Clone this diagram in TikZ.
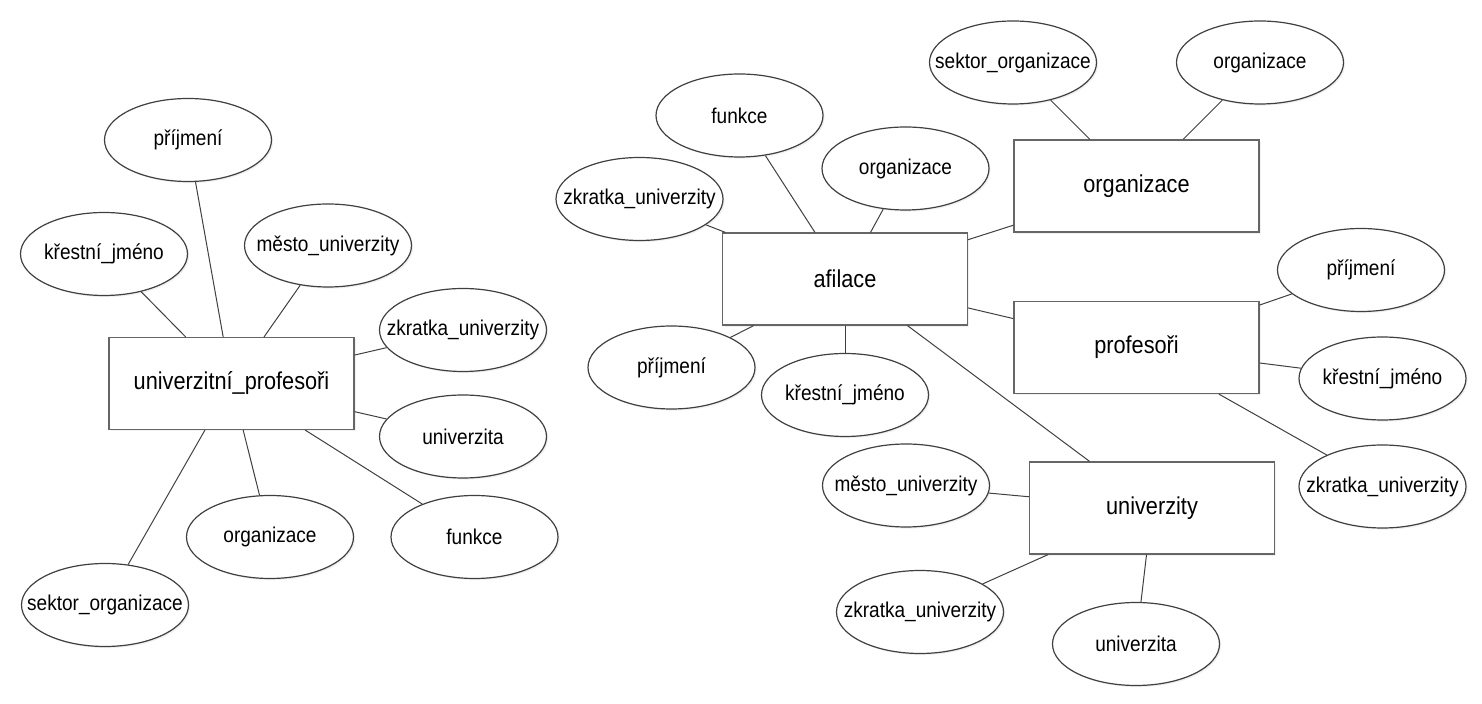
\documentclass[tikz,border=0pt]{standalone}
\usepackage{fontspec}
\setmainfont{Liberation Sans}[FakeStretch=0.89]
\usepackage{tikz}
\usetikzlibrary{shapes.geometric,shadows}

\tikzset{
  atribut/.style={ellipse, draw=black!75, line width=0.6pt, fill=white,
    minimum width=83.5pt, minimum height=41.5pt, inner xsep=-12pt, inner ysep=0pt,
    font=\fontsize{10.7}{12}\selectfont,
    drop shadow={shadow xshift=0.8pt, shadow yshift=-0.8pt, opacity=0.12}},
  entita/.style={rectangle, draw=black!60, line width=0.6pt, fill=white,
    minimum width=122.5pt, minimum height=46pt, inner sep=0pt,
    font=\fontsize{12.2}{14}\selectfont,
    drop shadow={shadow xshift=0.8pt, shadow yshift=-0.8pt, opacity=0.12}},
  spoj/.style={draw=black!75, line width=0.5pt}
}

\begin{document}
\begin{tikzpicture}[x=0.5pt,y=-0.5pt]
        \useasboundingbox (0,0) rectangle (1482,704);
        % levy diagram
        \node[entita] (up) at (231.5,383.5) {univerzitní\_profesoři};
        \node[atribut] (upPrijmeni) at (188,140) {příjmení};
        \node[atribut] (upJmeno) at (104,254) {křestní\_jméno};
        \node[atribut] (upMesto) at (328,245.5) {město\_univerzity};
        \node[atribut] (upZkratka) at (463,330) {zkratka\_univerzity};
        \node[atribut] (upUniverzita) at (463,436.5) {univerzita};
        \node[atribut] (upFunkce) at (474.5,537) {funkce};
        \node[atribut] (upOrganizace) at (270,537) {organizace};
        \node[atribut] (upSektor) at (105,605) {sektor\_organizace};
        \draw[spoj] (upPrijmeni) -- (up);
        \draw[spoj] (upJmeno) -- (up);
        \draw[spoj] (upMesto) -- (up);
        \draw[spoj] (upZkratka) -- (up);
        \draw[spoj] (upUniverzita) -- (up);
        \draw[spoj] (upFunkce) -- (up);
        \draw[spoj] (upOrganizace) -- (up);
        \draw[spoj] (upSektor) -- (up);
        % pravy diagram
        \node[entita] (af) at (845,279) {afilace};
        \node[entita] (org) at (1136.5,186) {organizace};
        \node[entita] (prof) at (1136.5,347.5) {profesoři};
        \node[entita] (uni) at (1152,508) {univerzity};
        \node[atribut] (afFunkce) at (739.5,115.5) {funkce};
        \node[atribut] (afOrganizace) at (905.5,168.5) {organizace};
        \node[atribut] (afZkratka) at (639.5,199) {zkratka\_univerzity};
        \node[atribut] (afPrijmeni) at (671.5,367.5) {příjmení};
        \node[atribut] (afJmeno) at (845,395) {křestní\_jméno};
        \node[atribut] (orgSektor) at (1013,62.5) {sektor\_organizace};
        \node[atribut] (orgNazev) at (1260,62.5) {organizace};
        \node[atribut] (profPrijmeni) at (1361,270) {příjmení};
        \node[atribut] (profJmeno) at (1382.5,378.5) {křestní\_jméno};
        \node[atribut] (profZkratka) at (1382.5,486.5) {zkratka\_univerzity};
        \node[atribut] (uniMesto) at (906,485.5) {město\_univerzity};
        \node[atribut] (uniZkratka) at (920,612) {zkratka\_univerzity};
        \node[atribut] (uniNazev) at (1136,644) {univerzita};
        \draw[spoj] (afFunkce) -- (af);
        \draw[spoj] (afOrganizace) -- (af);
        \draw[spoj] (afZkratka) -- (af);
        \draw[spoj] (afPrijmeni) -- (af);
        \draw[spoj] (afJmeno) -- (af);
        \draw[spoj] (af) -- (org);
        \draw[spoj] (af) -- (prof);
        \draw[spoj] (af) -- (uni);
        \draw[spoj] (orgSektor) -- (org);
        \draw[spoj] (orgNazev) -- (org);
        \draw[spoj] (profPrijmeni) -- (prof);
        \draw[spoj] (profJmeno) -- (prof);
        \draw[spoj] (profZkratka) -- (prof);
        \draw[spoj] (uniMesto) -- (uni);
        \draw[spoj] (uniZkratka) -- (uni);
        \draw[spoj] (uniNazev) -- (uni);
\end{tikzpicture}
\end{document}
